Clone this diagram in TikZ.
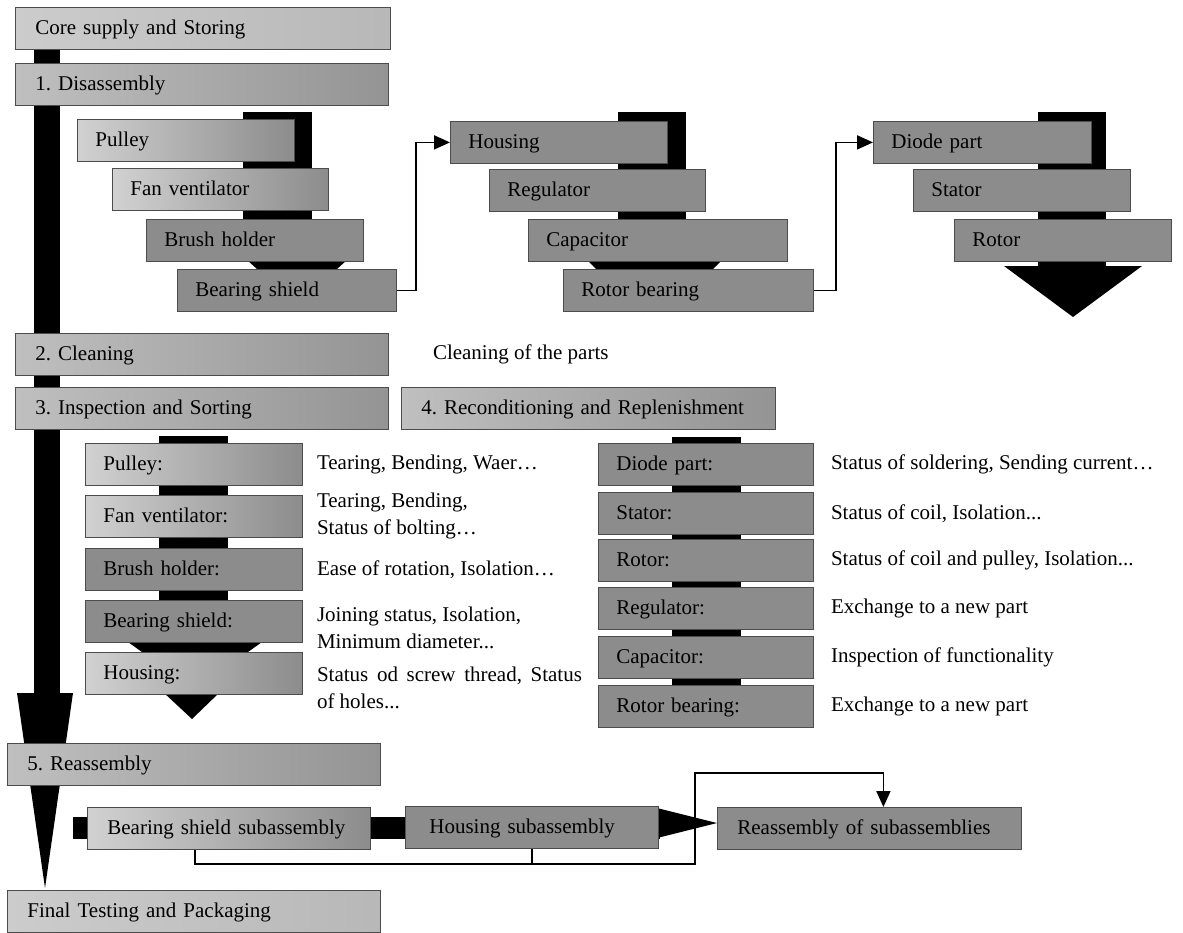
\documentclass[tikz,border=0pt]{standalone}
\usepackage{fontspec}
\setmainfont{Liberation Serif}
\usetikzlibrary{arrows.meta,positioning}
\frenchspacing

\begin{document}
\begin{tikzpicture}[x=1pt, y=-1pt,
  font=\fontsize{21}{27}\selectfont, >={Triangle[length=16pt, width=14pt]},
  box/.style={draw=black!70, line width=0.8pt, anchor=north west, align=left,
    inner xsep=18pt, inner ysep=0pt, minimum height=42pt, text height=16pt, text depth=4pt},
  stage/.style={box, inner xsep=20pt, left color=black!25, right color=black!42},
  lstage/.style={box, inner xsep=20pt, left color=black!20, right color=black!28},
  part/.style={box, fill=black!45},
  lpart/.style={box, left color=black!18, right color=black!45},
  note/.style={inner sep=0pt, align=left},
  conn/.style={line width=1.8pt}]
\useasboundingbox (0,0) rectangle (1183,932);
% main flow arrow
\fill (34,45) rectangle (60,693);
\fill (17,693) -- (73,693) -- (45,888) -- cycle;
% disassembly links
\fill (243,112) rectangle (312,262);
\fill (247,260) -- (347,260) -- (337,269) -- (257,269) -- cycle;
\fill (618,112) rectangle (686,219);
\fill (587,260) -- (722,260) -- (712,270) -- (597,270) -- cycle;
\fill (1038,112) rectangle (1106,266);
\fill (1004,266) -- (1142,266) -- (1073,317) -- cycle;
% inspection links
\fill (159,436) rectangle (228,651);
\fill (128,642) -- (262,642) -- (248,652) -- (142,652) -- cycle;
\fill (163,692) -- (220,692) -- (192,719) -- cycle;
\fill (672,437) rectangle (741,686);
% reassembly links
\fill (73,817) rectangle (660,839);
\fill (657,808) -- (657,838) -- (717,823) -- cycle;
% stages
\node[lstage, text width=335pt] (core) at (15,7) {Core supply and Storing};
\node[stage, text width=333pt] (dis) at (15,63) {1. Disassembly};
\node[stage, text width=333pt] (clean) at (15,333) {2. Cleaning};
\node[stage, text width=333pt] (insp) at (15,387) {3. Inspection and Sorting};
\node[stage, text width=334pt] (recon) at (401,387) {4. Reconditioning and Replenishment};
\node[stage, text width=333pt] (reas) at (7,743) {5. Reassembly};
\node[lstage, text width=333pt] (final) at (7,890) {Final Testing and Packaging};
% disassembly parts
\node[lpart, text width=181pt] (dpul) at (77,119) {Pulley};
\node[lpart, text width=180pt] (dfan) at (112,168) {Fan ventilator};
\node[part, text width=181pt] (dbru) at (146,219) {Brush holder};
\node[part, text width=183pt] (dbear) at (177,269) {Bearing shield};
\node[part, text width=181pt] (dhous) at (450,121) {Housing};
\node[part, text width=180pt] (dreg) at (489,169) {Regulator};
\node[part, text width=223pt] (dcap) at (528,219) {Capacitor};
\node[part, text width=214pt] (drotb) at (563,269) {Rotor bearing};
\node[part, text width=182pt] (ddiode) at (873,121) {Diode part};
\node[part, text width=181pt] (dstat) at (913,169) {Stator};
\node[part, text width=181pt] (drot) at (954,219) {Rotor};
\draw[conn, ->] (dbear.east) -- ++(19,0) |- (dhous.west);
\draw[conn, ->] (drotb.east) -- ++(22,0) |- (ddiode.west);
\node[note, right=44pt of clean] (cleannote) {Cleaning of the parts};
% inspection parts
\node[lpart, text width=181pt] (ipul) at (85,443) {Pulley:};
\node[lpart, text width=181pt] (ifan) at (85,495) {Fan ventilator:};
\node[part, text width=181pt] (ibru) at (85,548) {Brush holder:};
\node[part, text width=181pt] (ibear) at (85,600) {Bearing shield:};
\node[lpart, text width=181pt] (ihous) at (85,652) {Housing:};
\node[note, right=14pt of ipul] (ipulnote) {Tearing, Bending, Waer\dots};
\node[note, right=14pt of ifan] (ifannote) {Tearing, Bending,\\Status of bolting\dots};
\node[note, right=14pt of ibru] (ibrunote) {Ease of rotation, Isolation\dots};
\node[note, right=14pt of ibear, yshift=-6pt] (ibearnote) {Joining status, Isolation,\\Minimum diameter...};
\node[note, below right=15pt and 14pt of ihous.north east, text width=265pt, align=justify]
  (ihousnote) {Status od screw thread, Status of holes...};
% reconditioning parts
\node[part, text width=179pt] (rdiode) at (598,443) {Diode part:};
\node[part, text width=179pt] (rstat) at (598,492) {Stator:};
\node[part, text width=179pt] (rrot) at (598,539) {Rotor:};
\node[part, text width=179pt] (rreg) at (598,587) {Regulator:};
\node[part, text width=179pt] (rcap) at (598,636) {Capacitor:};
\node[part, text width=179pt] (rrotb) at (598,685) {Rotor bearing:};
\node[note, right=17pt of rdiode] (rdiodenote) {Status of soldering, Sending current\dots};
\node[note, right=17pt of rstat] (rstatnote) {Status of coil, Isolation...};
\node[note, right=17pt of rrot] (rrotnote) {Status of coil and pulley, Isolation...};
\node[note, right=17pt of rreg] (rregnote) {Exchange to a new part};
\node[note, right=17pt of rcap] (rcapnote) {Inspection of functionality};
\node[note, right=17pt of rrotb] (rrotbnote) {Exchange to a new part};
% reassembly
\node[lpart, inner xsep=20pt, text width=243pt] (sbear) at (87,807) {Bearing shield subassembly};
\node[part, inner xsep=24pt, text width=205pt] (shous) at (405,806) {Housing subassembly};
\node[part, inner xsep=20pt, text width=264pt] (sreas) at (717,807) {Reassembly of subassemblies};
\coordinate (loop) at (695,864);
\coordinate (top) at (695,773);
\draw[conn, ->] ([xshift=-34pt]sbear.south) |- (loop) -- (top) -| ([xshift=14pt]sreas.north);
\draw[conn] (shous.south) -- (shous.south |- loop);
\end{tikzpicture}
\end{document}
